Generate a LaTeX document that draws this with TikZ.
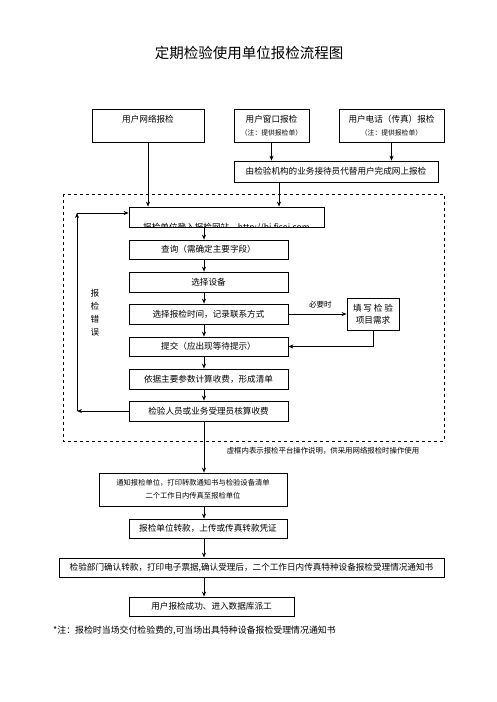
\documentclass[tikz,border=0pt]{standalone}
\usepackage{fontspec}
\setmainfont{Noto Sans CJK SC}
\usepackage{tikz}
\usetikzlibrary{arrows.meta}

\begin{document}
\begin{tikzpicture}[x=1pt, y=-1pt,
  box/.style={draw, line width=0.8pt, align=center, inner sep=1pt, font={\fontsize{8.6}{12}\selectfont}},
  note/.style={font={\fontsize{6.8}{9}\selectfont}},
  arr/.style={-{Stealth[length=5pt, width=4pt]}, line width=0.8pt}]
\useasboundingbox (0,0) rectangle (496,702);
\node[font={\fontsize{14.5}{16}\selectfont}] (title) at (249,53) {定期检验使用单位报检流程图};
% user entry boxes
\node[box, minimum width=112pt, minimum height=33pt] (net) at (148,125.5) {用户网络报检\\[2pt]\mbox{}};
\node[box, minimum width=75pt, minimum height=33pt] (win) at (271.5,125.5) {用户窗口报检\\[1pt]{\fontsize{6.8}{9}\selectfont （注：提供报检单）}};
\node[box, minimum width=105pt, minimum height=33pt] (tel) at (391.5,125.5) {用户电话（传真）报检\\[1pt]{\fontsize{6.8}{9}\selectfont （注：提供报检单）}};
\node[box, minimum width=204pt, minimum height=21pt] (agent) at (336,171.5) {由检验机构的业务接待员代替用户完成网上报检};
% platform steps
\draw[dashed, line width=0.7pt] (63,194) rectangle (444,441);
\node[box, minimum width=195pt, minimum height=20pt] (login) at (226.5,217) {};
\begin{scope}
\clip (login.south west) rectangle (login.north east);
\node[font={\fontsize{8.6}{10}\selectfont}, anchor=base] (logintext) at (226.5,230) {报检单位登入报检网站\quad http://bj.fjsei.com};
\end{scope}
\node[box, minimum width=159pt, minimum height=19pt] (query) at (208.5,249.5) {查询（需确定主要字段）};
\node[box, minimum width=159pt, minimum height=20pt] (device) at (208.5,282) {选择设备};
\node[box, minimum width=159pt, minimum height=20pt] (time) at (208.5,314) {选择报检时间，记录联系方式};
\node[box, minimum width=159pt, minimum height=19pt] (submit) at (208.5,346.5) {提交（应出现等待提示）};
\node[box, minimum width=159pt, minimum height=20pt] (calc) at (208.5,379) {依据主要参数计算收费，形成清单};
\node[box, minimum width=159pt, minimum height=20pt] (check) at (208.5,411) {检验人员或业务受理员核算收费};
\node[box, minimum width=52pt, minimum height=32pt] (fill) at (373,314) {\makebox[40pt][s]{填\hfil 写\hfil 检\hfil 验}\\项目需求};
\node[align=center, font={\fontsize{8.6}{13}\selectfont}] (err) at (95,313) {报\\检\\错\\误};
\node[font={\fontsize{7.4}{9}\selectfont}] (dashnote) at (323,451) {虚框内表示报检平台操作说明，供采用网络报检时操作使用};
% after payment
\node[box, minimum width=188pt, minimum height=33pt, font={\fontsize{7.3}{13}\selectfont}] (notify) at (193,489.5) {通知报检单位，打印转款通知书与检验设备清单\\二个工作日内传真至报检单位};
\node[box, minimum width=158pt, minimum height=19pt] (transfer) at (208,528.5) {报检单位转款，上传或传真转款凭证};
\node[box, minimum width=385pt, minimum height=19pt] (confirm) at (251.5,567.5) {检验部门确认转款，打印电子票据,确认受理后，二个工作日内传真特种设备报检受理情况通知书};
\node[box, minimum width=165pt, minimum height=19pt] (success) at (211.5,606.5) {用户报检成功、进入数据库派工};
\node[anchor=west, inner sep=0pt, font={\fontsize{8.9}{10}\selectfont}] (footnote) at (53,631) {*注：报检时当场交付检验费的,可当场出具特种设备报检受理情况通知书};
% connectors
\coordinate (spine) at (204,0);
\coordinate (agentdrop) at (279,0);
\coordinate (loopbot) at (77,411);
\coordinate (looptop) at (77,213);
\draw[arr] (net.south) -- (login.north -| net.south);
\draw[arr] (win.south) -- (agent.north -| win.south);
\draw[arr] (tel.south) -- (agent.north -| tel.south);
\draw[arr] (agent.south -| agentdrop) -- (login.north -| agentdrop);
\draw[arr] (login.south -| spine) -- (query.north -| spine);
\draw[arr] (query.south -| spine) -- (device.north -| spine);
\draw[arr] (device.south -| spine) -- (time.north -| spine);
\draw[arr] (time.south -| spine) -- (submit.north -| spine);
\draw[arr] (submit.south -| spine) -- (calc.north -| spine);
\draw[arr] (calc.south -| spine) -- (check.north -| spine);
\draw[arr] (time.east) -- node[pos=0.55, above=2pt, font={\fontsize{7.6}{9}\selectfont}] (need) {必要时} (fill.west);
\draw[arr] (fill.south) |- (submit.east);
\draw[arr] (check.west) -- (loopbot);
\draw[arr] (loopbot) -- (looptop);
\draw[arr] (looptop) -- (looptop -| login.west);
\draw[arr] (check.south -| spine) -- (notify.north -| spine);
\draw[arr] (notify.south -| spine) -- (transfer.north -| spine);
\draw[arr] (transfer.south -| spine) -- (confirm.north -| spine);
\draw[arr] (confirm.south -| spine) -- (success.north -| spine);
\end{tikzpicture}
\end{document}
